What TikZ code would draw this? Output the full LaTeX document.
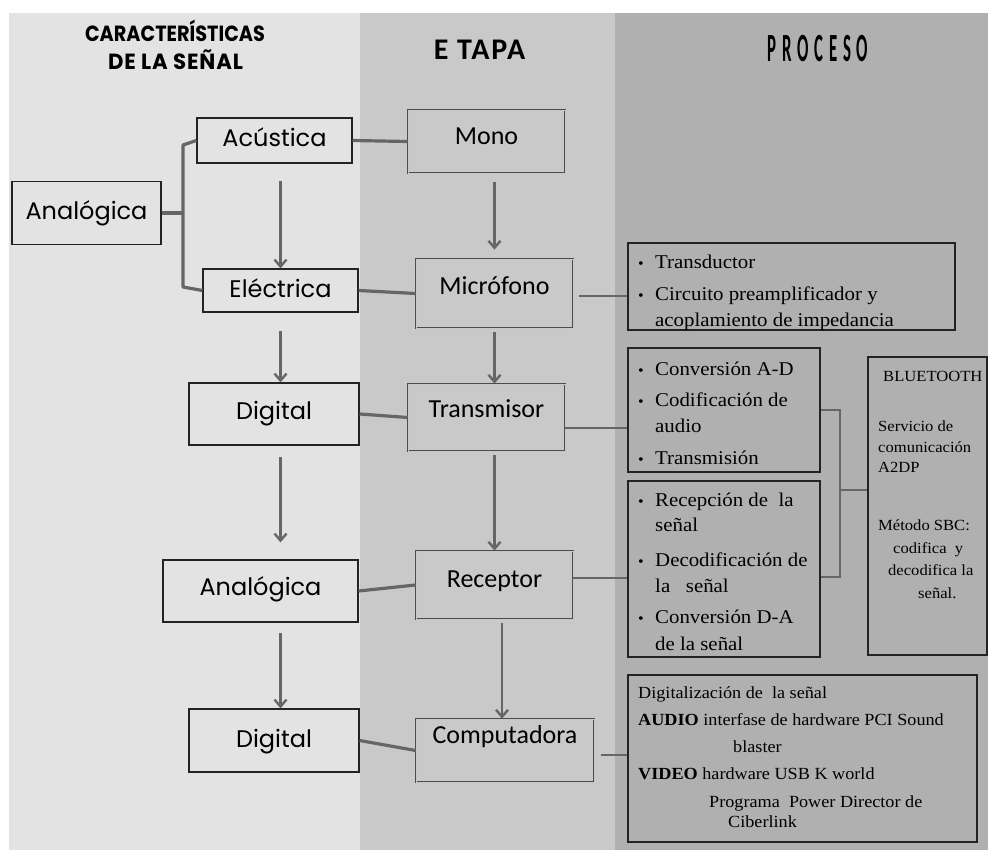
\documentclass[tikz,border=0pt]{standalone}
\usepackage{fontspec}
\usepackage{graphicx}
\usetikzlibrary{arrows.meta,calc}
\newfontfamily\calfont{Carlito}
\newfontfamily\procfont[FakeStretch=1.07]{Liberation Serif}
\newfontfamily\gothfont{Poppins}
\definecolor{bgL}{RGB}{227,227,227}
\definecolor{bgM}{RGB}{201,201,201}
\definecolor{bgR}{RGB}{176,176,176}
\definecolor{lc}{RGB}{102,102,102}
\definecolor{bc}{RGB}{35,35,35}
\tikzset{
  lbox/.style={draw=bc, line width=1.2pt, fill=bgL, inner sep=0pt,
    font={\gothfont\fontsize{24}{30}\selectfont}, text height=18pt},
  mbox/.style={draw=black!70, double=black!22, double distance=0.7pt, line width=0.7pt,
    fill=bgM, inner sep=0pt, font={\calfont\fontsize{26}{30}\selectfont}, text height=16pt},
  pbox/.style={draw=bc, line width=1.2pt, inner sep=0pt},
  ptx/.style={anchor=base west, inner sep=0pt, font={\procfont\fontsize{19.5}{23}\selectfont}},
  pbul/.style={anchor=base west, inner sep=0pt, font={\procfont\fontsize{15}{18}\selectfont}},
  btx/.style={anchor=base west, inner sep=0pt, font={\procfont\fontsize{15.5}{19}\selectfont}},
  dtx/.style={anchor=base west, inner sep=0pt, font={\procfont\fontsize{17}{20}\selectfont}},
  htx/.style={anchor=base, inner sep=0pt, font={\gothfont\bfseries\fontsize{18}{22}\selectfont}},
  thk/.style={draw=lc, line width=3.2pt},
  thn/.style={draw=lc, line width=2.4pt},
  arr/.style={draw=lc, line width=2.4pt, -{Straight Barb[length=7pt,width=12pt]}},
}
\begin{document}
\begin{tikzpicture}[x=1pt,y=-1pt]
\useasboundingbox (0,0) rectangle (989,850);
\fill[white] (0,0) rectangle (989,850);
\fill[bgL] (9,13) rectangle (360,850);
\fill[bgM] (360,13) rectangle (615,850);
\fill[bgR] (615,13) rectangle (988,850);

% headers
\node[htx] (h1) at (175,42) {\scalebox{1.07}[1.22]{CARACTERÍSTICAS}};
\node[htx] (h1b) at (175.5,70) {\scalebox{1.18}[1.22]{\addfontfeature{LetterSpace=4}DE LA SEÑAL}};
\node[anchor=base, inner sep=0pt, font={\calfont\bfseries\fontsize{30}{36}\selectfont}] (h2) at (479.5,60) {\addfontfeature{LetterSpace=6}E TAPA};
\node[anchor=base, inner sep=0pt, font={\calfont\bfseries\fontsize{40}{44}\selectfont}] (h3) at (818,62) {\scalebox{0.42}[1]{\addfontfeature{LetterSpace=34}PROCESO}};

% left column
\node[lbox, minimum width=149pt, minimum height=63pt, text depth=5pt] (ana1) at (86.5,213) {Analógica};
\node[lbox, minimum width=155pt, minimum height=45pt, text depth=6.5pt] (acu) at (274.5,140.5) {Acústica};
\node[lbox, minimum width=155pt, minimum height=43pt, text depth=3pt] (ele) at (280.5,290.5) {Eléctrica};
\node[lbox, minimum width=170pt, minimum height=62pt, text depth=6pt] (dig1) at (274,414) {Digital};
\node[lbox, minimum width=195pt, minimum height=62pt, text depth=10pt] (ana2) at (260.5,591) {Analógica};
\node[lbox, minimum width=170pt, minimum height=63pt, text depth=5pt] (dig2) at (274,740.5) {Digital};

% middle column
\node[mbox, minimum width=157pt, minimum height=63pt, text depth=9pt] (mono) at (486.5,141.5) {Mono};
\node[mbox, minimum width=157pt, minimum height=69pt, text depth=13pt] (mic) at (494.5,293.5) {Micrófono};
\node[mbox, minimum width=157pt, minimum height=67pt, text depth=15pt] (tra) at (486.5,417.5) {Transmisor};
\node[mbox, minimum width=157pt, minimum height=68pt, text depth=12pt] (rec) at (494.5,585) {Receptor};
\node[mbox, minimum width=178pt, minimum height=63pt, text depth=31pt] (com) at (505,750.5) {Computadora};

% process boxes
\node[pbox, minimum width=327pt, minimum height=87pt] (tbox) at (791.5,286.5) {};
\node[pbox, minimum width=192pt, minimum height=124pt] (conv) at (724,410) {};
\node[pbox, minimum width=192pt, minimum height=176pt] (recb) at (724,569) {};
\node[pbox, minimum width=119pt, minimum height=298pt] (bt) at (927.5,506) {};
\node[pbox, minimum width=349pt, minimum height=167pt] (dbox) at (802.5,758.5) {};

% left bracket
\coordinate (jL) at (183,213);
\coordinate (jLt) at (183,145);
\coordinate (jLb) at (183,287);
\draw[thk] (ana1.east) -- (jL);
\draw[thk, line join=round] (acu.west) -- (jLt) -- (jLb) -- (ele.west);

% left arrows
\draw[arr, shorten <=17pt] (acu.south -| ele.north) -- (ele.north);
\draw[arr, shorten <=18pt] (ele.south) -- (ele.south |- dig1.north);
\draw[arr, shorten <=11pt, shorten >=17pt] (dig1.south -| ele.south) -- (ana2.north -| ele.south);
\draw[arr, shorten <=10pt] (ana2.south -| ele.south) -- (dig2.north -| ele.south);

% middle arrows
\draw[arr, shorten <=9pt, shorten >=9pt] (mono.south -| mic.north) -- (mic.north);
\draw[arr, shorten <=4pt] (mic.south) -- (mic.south |- tra.north);
\draw[arr, shorten <=4pt] (tra.south -| mic.south) -- (rec.north);
\draw[arr, shorten <=4pt] ([xshift=7.5pt]rec.south) -- ([xshift=7.5pt]rec.south |- com.north);

% left-middle connectors
\draw[thk] (acu.east) -- (mono.west);
\draw[thk] (ele.east) -- (mic.west);
\draw[thk] (dig1.east) -- (tra.west);
\draw[thk] (ana2.east) -- (rec.west);
\draw[thk] (dig2.east) -- (com.west);

% middle-process connectors
\draw[thn, shorten <=6pt] ([yshift=-2.5pt]mic.east) -- ([yshift=-2.5pt]mic.east -| tbox.west);
\draw[thn] ([yshift=-10.5pt]tra.east) -- ([yshift=-10.5pt]tra.east -| conv.west);
\draw[thn] ([yshift=7pt]rec.east) -- ([yshift=7pt]rec.east -| recb.west);
\draw[thn, shorten <=7pt] ([yshift=-4.5pt]com.east) -- ([yshift=-4.5pt]com.east -| dbox.west);

% right bracket
\coordinate (jRt) at (840,410);
\coordinate (jRb) at (840,577);
\coordinate (jRm) at (840,490);
\draw[thn] (conv.east) -- (jRt) -- (jRb) -- (recb.east |- jRb);
\draw[thn] (jRm) -- (jRm -| bt.west);

% transductor box text
\node[pbul] (b1) at (638,269) {•};
\node[ptx] (t1) at (655,269) {Transductor};
\node[pbul] (b2) at (638,301) {•};
\node[ptx] (t2) at (655,301) {Circuito preamplificador y};
\node[ptx] (t3) at (655,327) {acoplamiento de impedancia};

% conversion box text
\node[pbul] (b3) at (638,376) {•};
\node[ptx] (t4) at (655,376) {Conversión A-D};
\node[pbul] (b4) at (638,407) {•};
\node[ptx] (t5) at (655,407) {Codificación de};
\node[ptx] (t6) at (655,433) {audio};
\node[pbul] (b5) at (638,465) {•};
\node[ptx] (t7) at (655,465) {Transmisión};

% reception box text
\node[pbul] (b6) at (638,507) {•};
\node[ptx] (t8) at (655,507) {Recepción de\ \ la};
\node[ptx] (t9) at (655,532) {señal};
\node[pbul] (b7) at (638,566) {•};
\node[ptx] (t10) at (655,566) {Decodificación de};
\node[ptx] (t11) at (655,592) {la\ \ \ señal};
\node[pbul] (b8) at (638,623) {•};
\node[ptx] (t12) at (655,623) {Conversión D-A};
\node[ptx] (t13) at (655,650) {de la señal};

% bluetooth text
\node[btx] (u1) at (883,382) {BLUETOOTH};
\node[btx] (u2) at (878,432) {Servicio de};
\node[btx] (u3) at (878,453) {comunicación};
\node[btx] (u4) at (878,473) {A2DP};
\node[btx] (u5) at (878,530) {Método SBC:};
\node[btx] (u6) at (893,553) {codifica\ \ y};
\node[btx] (u7) at (888,575) {decodifica la};
\node[btx] (u8) at (918,598) {señal.};

% computer box text
\node[dtx] (d1) at (638,698) {Digitalización de\ \ la señal};
\node[dtx] (d2) at (638,725) {\textbf{AUDIO} interfase de hardware PCI Sound};
\node[dtx] (d3) at (733,752) {blaster};
\node[dtx] (d4) at (638,779) {\textbf{VIDEO} hardware USB K world};
\node[dtx] (d5) at (709,807) {Programa\ \ Power Director de};
\node[dtx] (d6) at (728,827) {Ciberlink};
\end{tikzpicture}
\end{document}
